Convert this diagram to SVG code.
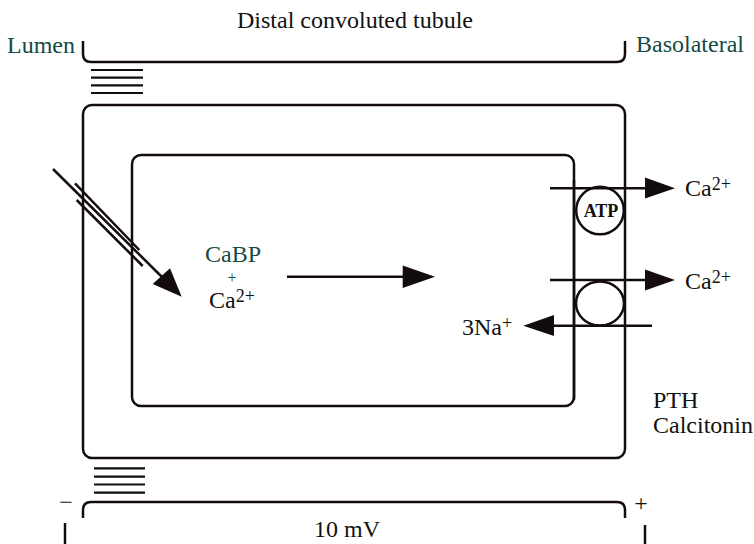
<svg xmlns="http://www.w3.org/2000/svg" width="754" height="544" viewBox="0 0 754 544">
<style>
.ln{fill:none;stroke:#140c0c;stroke-width:2.5;stroke-linecap:butt}
.st{fill:none;stroke:#140c0c;stroke-width:2.2}
.ah{fill:#140c0c;stroke:none}
text{font-family:"Liberation Serif","Times New Roman",serif;font-size:24px;fill:#111}
.teal{fill:#154a45}
.sup{font-size:18px}
.sign{font-size:24px}
.atp{font-size:18px;font-weight:bold}
</style>
<rect width="754" height="544" fill="#fff"/>
<g id="title"><text x="237" y="28">Distal convoluted tubule</text></g>
<g id="lumen"><text class="teal" x="7" y="52.5">Lumen</text></g>
<g id="basolateral"><text class="teal" x="636" y="52">Basolateral</text></g>
<g id="top-bracket"><path class="ln" d="M83,41 V54 Q83,62 91,62 H617 Q625,62 625,54 V41"/></g>
<g id="top-junction">
<path class="st" d="M91,70H143M91,77.7H143M91,85.3H143M91,93H143"/>
</g>
<g id="outer-cell"><rect class="ln" x="83" y="105" width="542" height="353" rx="9"/></g>
<g id="inner-cell"><rect class="ln" x="132" y="155" width="442" height="251" rx="9"/></g>
<g id="bottom-junction">
<path class="st" d="M94,468.3H145M94,476.7H145M94,484.5H145M94,492.7H145"/>
</g>
<g id="bottom-bracket"><path class="ln" d="M83,518 V510 Q83,502 91,502 H617 Q625,502 625,510 V518"/></g>
<g id="potential">
<text class="sign" x="66" y="510" text-anchor="middle">−</text>
<text class="sign" x="641" y="511" text-anchor="middle">+</text>
<line class="ln" x1="65" y1="523" x2="65" y2="544"/>
<line class="ln" x1="645" y1="525" x2="645" y2="544"/>
<text x="347" y="536.5" text-anchor="middle">10 mV</text>
</g>
<g id="cabp">
<text class="teal" x="233" y="262" text-anchor="middle">CaBP</text>
<text class="teal" x="232" y="282.5" text-anchor="middle" style="font-size:16px">+</text>
<text x="209" y="308">Ca<tspan class="sup" dy="-6">2+</tspan></text>
</g>
<g id="atp-pump">
<circle cx="600" cy="210.5" r="23.8" fill="#fff" stroke="#140c0c" stroke-width="2.5"/>
<text class="atp" x="601" y="216.5" text-anchor="middle">ATP</text>
</g>
<g id="exchanger">
<ellipse cx="600" cy="303.5" rx="24" ry="22" fill="#fff" stroke="#140c0c" stroke-width="2.5"/>
</g>
<g id="membrane-lines">
<line class="ln" x1="574" y1="180" x2="574" y2="400"/>
</g>
<g id="labels-right">
<text x="685" y="196">Ca<tspan class="sup" dy="-6">2+</tspan></text>
<text x="685" y="289">Ca<tspan class="sup" dy="-6">2+</tspan></text>
<text x="462" y="335">3Na<tspan class="sup" dy="-6">+</tspan></text>
<text x="653" y="408">PTH</text>
<text x="653" y="433">Calcitonin</text>
</g>
<g id="connectors">
<line class="ln" x1="53" y1="169" x2="163" y2="278"/>
<polygon class="ah" points="181.7,296.7 152.7,284 170,268.3"/>
<line class="ln" x1="75" y1="183.3" x2="139.3" y2="250"/>
<line class="ln" x1="76.7" y1="200" x2="142.7" y2="266"/>
<line class="ln" x1="287" y1="276.7" x2="405" y2="276.7"/>
<polygon class="ah" points="435,276.7 402.7,265.5 402.7,288"/>
<line class="ln" x1="550" y1="188.3" x2="647" y2="188.3"/>
<polygon class="ah" points="675,188.3 645,177.5 645,198.5"/>
<line class="ln" x1="550" y1="280" x2="647" y2="280"/>
<polygon class="ah" points="675,280 645,269.5 645,290.5"/>
<line class="ln" x1="652" y1="325.7" x2="552" y2="325.7"/>
<polygon class="ah" points="523.3,325.7 554,315 554,336"/>
</g>
</svg>
